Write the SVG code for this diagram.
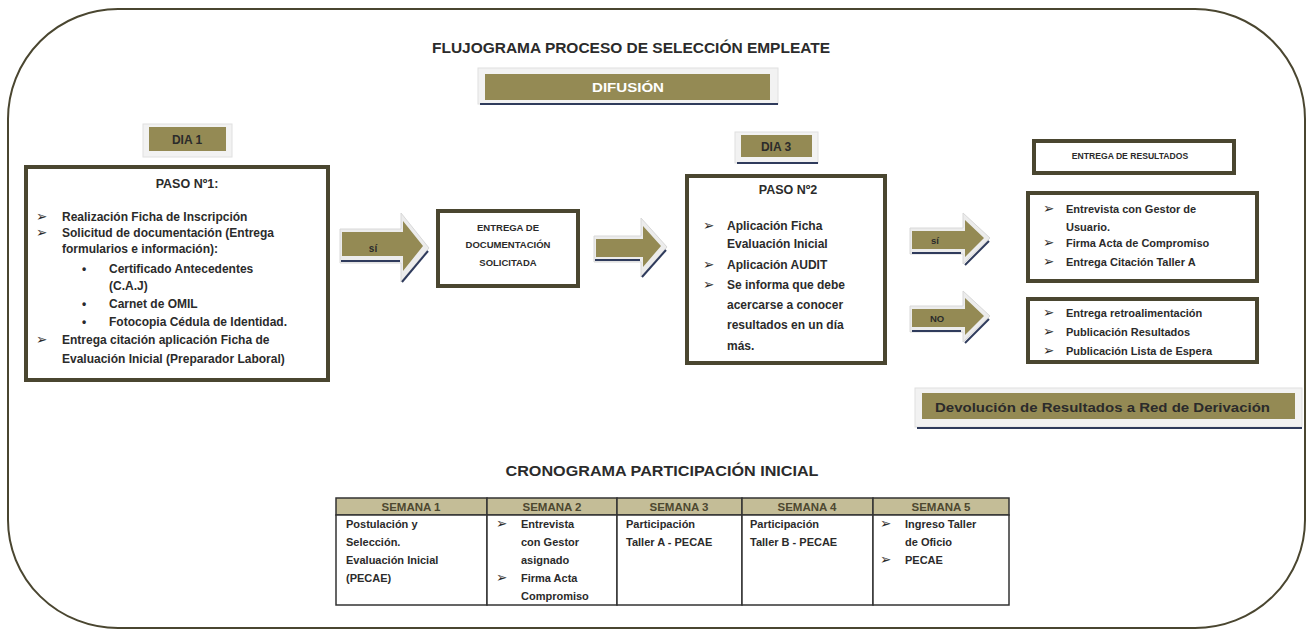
<svg xmlns="http://www.w3.org/2000/svg" width="1309" height="631" viewBox="0 0 1309 631">
<style>
.t{font-family:"Liberation Sans",Arial,sans-serif;font-weight:bold;fill:#2b2b2b}
.s12{font-size:12px}
.s11{font-size:11px}
.bul{font-family:"DejaVu Sans",sans-serif;font-size:13.5px;fill:#2b2b2b}
.box{fill:#fff;stroke:#4a4630;stroke-width:4}
.olive{fill:#948a54}
.plate{fill:#f2f2f2;stroke:#e0e0e0;stroke-width:1}
.navy{stroke:#2f3b5c;stroke-width:2;fill:none}
.bevel{fill:#ececec;stroke:#d8d8d8;stroke-width:1}
.hdr{fill:#c4bd97;stroke:#333;stroke-width:1.5}
.cell{fill:#fff;stroke:#333;stroke-width:1.5}
.ht{font-family:"Liberation Sans",Arial,sans-serif;font-weight:bold;font-size:11.5px;fill:#4d4830}
</style>

<path d="M118,9 H1195 A110,110 0 0 1 1305,119 V520 A110,108 0 0 1 1195,628 H118 A110,108 0 0 1 8,520 V119 A110,110 0 0 1 118,9 Z" fill="none" stroke="#4a4630" stroke-width="2"/>

<text class="t" x="631" y="53" font-size="14.5" text-anchor="middle" textLength="398" lengthAdjust="spacingAndGlyphs" fill="#333">FLUJOGRAMA PROCESO DE SELECCIÓN EMPLEATE</text>

<g id="difusion">
<rect class="plate" x="478" y="68" width="300" height="36"/>
<line class="navy" x1="480" y1="104" x2="778" y2="104"/>
<rect class="olive" x="485" y="74" width="285" height="26"/>
<text class="t" x="628" y="92" font-size="13" text-anchor="middle" textLength="72" lengthAdjust="spacingAndGlyphs" style="fill:#fff">DIFUSIÓN</text>
</g>

<g id="dia1">
<rect class="plate" x="143" y="124" width="89" height="33"/>
<rect class="olive" x="149" y="127" width="77" height="24"/>
<text class="t s12" x="187" y="144" text-anchor="middle">DIA 1</text>
</g>

<g id="paso1">
<rect class="box" x="26" y="167" width="302" height="213"/>
<text class="t" x="187" y="188" font-size="12.5" text-anchor="middle">PASO Nº1:</text>
<text class="bul" x="36" y="221">➢</text>
<text class="t s12" x="62" y="221">Realización Ficha de Inscripción</text>
<text class="bul" x="36" y="237">➢</text>
<text class="t s12" x="62" y="237">Solicitud de documentación (Entrega</text>
<text class="t s12" x="62" y="253">formularios e información):</text>
<text class="t s12" x="82" y="273">•</text>
<text class="t s12" x="109" y="273">Certificado Antecedentes</text>
<text class="t s12" x="109" y="290">(C.A.J)</text>
<text class="t s12" x="82" y="308">•</text>
<text class="t s12" x="109" y="308">Carnet de OMIL</text>
<text class="t s12" x="82" y="326">•</text>
<text class="t s12" x="109" y="326">Fotocopia Cédula de Identidad.</text>
<text class="bul" x="36" y="344">➢</text>
<text class="t s12" x="62" y="344">Entrega citación aplicación Ficha de</text>
<text class="t s12" x="62" y="363">Evaluación Inicial (Preparador Laboral)</text>
</g>

<g id="entrega-doc">
<rect class="box" x="438" y="211" width="140" height="75"/>
<text class="t" x="508" y="231" font-size="9.5" text-anchor="middle">ENTREGA DE</text>
<text class="t" x="508" y="248" font-size="9.5" text-anchor="middle">DOCUMENTACIÓN</text>
<text class="t" x="508" y="266" font-size="9.5" text-anchor="middle">SOLICITADA</text>
</g>

<g id="dia3">
<rect class="plate" x="735" y="132" width="83" height="31"/>
<line class="navy" x1="737" y1="163" x2="818" y2="163"/>
<rect class="olive" x="741" y="135" width="71" height="22"/>
<text class="t s12" x="776" y="151" text-anchor="middle">DIA 3</text>
</g>

<g id="paso2">
<rect class="box" x="687" y="176" width="198" height="187"/>
<text class="t" x="788" y="194" font-size="12.5" text-anchor="middle">PASO Nº2</text>
<text class="bul" x="703" y="230">➢</text>
<text class="t s12" x="727" y="230">Aplicación Ficha</text>
<text class="t s12" x="727" y="248">Evaluación Inicial</text>
<text class="bul" x="703" y="269">➢</text>
<text class="t s12" x="727" y="269">Aplicación AUDIT</text>
<text class="bul" x="703" y="289">➢</text>
<text class="t s12" x="727" y="289">Se informa que debe</text>
<text class="t s12" x="727" y="309">acercarse a conocer</text>
<text class="t s12" x="727" y="329">resultados en un día</text>
<text class="t s12" x="727" y="350">más.</text>
</g>

<g id="entrega-resultados">
<rect class="box" x="1034" y="141" width="200" height="32"/>
<text class="t" x="1130" y="159" font-size="8.6" text-anchor="middle">ENTREGA DE RESULTADOS</text>
</g>

<g id="resultado-si">
<rect class="box" x="1028" y="193" width="229" height="88"/>
<text class="bul" x="1043" y="213">➢</text>
<text class="t s11" x="1066" y="213">Entrevista con Gestor de</text>
<text class="t s11" x="1066" y="231">Usuario.</text>
<text class="bul" x="1043" y="247">➢</text>
<text class="t s11" x="1066" y="247">Firma Acta de Compromiso</text>
<text class="bul" x="1043" y="266">➢</text>
<text class="t s11" x="1066" y="266">Entrega Citación Taller A</text>
</g>

<g id="resultado-no">
<rect class="box" x="1028" y="299" width="229" height="63"/>
<text class="bul" x="1043" y="317">➢</text>
<text class="t s11" x="1066" y="317">Entrega retroalimentación</text>
<text class="bul" x="1043" y="336">➢</text>
<text class="t s11" x="1066" y="336">Publicación Resultados</text>
<text class="bul" x="1043" y="355">➢</text>
<text class="t s11" x="1066" y="355">Publicación Lista de Espera</text>
</g>

<g id="devolucion">
<rect class="plate" x="915" y="388" width="387" height="39"/>
<line class="navy" x1="917" y1="428" x2="1302" y2="428"/>
<rect class="olive" x="922" y="393" width="373" height="26"/>
<text class="t" x="935" y="412" font-size="13.5" textLength="335" lengthAdjust="spacingAndGlyphs" fill="#222">Devolución de Resultados a Red de Derivación</text>
</g>

<g id="connectors">
<g id="arrow-1">
<path class="bevel" d="M340,229 H401 V213 L429,248 L401,282 V263 H340 Z"/>
<path class="olive" d="M342,232 H403 V221 L423,246 L403,271 V256 H342 Z"/>
<line class="navy" x1="341" y1="261" x2="400" y2="261"/>
<line class="navy" x1="428" y1="251" x2="402" y2="282"/>
<text class="t" x="373" y="252" font-size="10" text-anchor="middle" fill="#4a2a1a">sí</text>
</g>
<g id="arrow-2">
<path class="bevel" d="M594,236 H641 V218 L667,247 L641,277 V262 H594 Z"/>
<path class="olive" d="M596,239 H643 V226 L661,246 L643,267 V257 H596 Z"/>
<line class="navy" x1="595" y1="260" x2="640" y2="260"/>
<line class="navy" x1="666" y1="250" x2="642" y2="277"/>
</g>
<g id="arrow-si">
<path class="bevel" d="M910,228 H963 V213 L990,238 L963,264 V254 H910 Z"/>
<path class="olive" d="M912,231 H965 V220 L984,238 L965,257 V249 H912 Z"/>
<line class="navy" x1="912" y1="253" x2="961" y2="253"/>
<line class="navy" x1="989" y1="241" x2="965" y2="265"/>
<text class="t" x="935" y="244" font-size="9.5" text-anchor="middle" fill="#3a2a1a">sí</text>
</g>
<g id="arrow-no">
<path class="bevel" d="M910,306 H963 V291 L990,316 L963,342 V332 H910 Z"/>
<path class="olive" d="M912,309 H965 V298 L984,316 L965,335 V327 H912 Z"/>
<line class="navy" x1="912" y1="331" x2="961" y2="331"/>
<line class="navy" x1="989" y1="319" x2="965" y2="343"/>
<text class="t" x="937" y="322" font-size="9.5" text-anchor="middle" fill="#2a2a1a">NO</text>
</g>
</g>

<text class="t" x="662" y="476" font-size="14" text-anchor="middle" textLength="313" lengthAdjust="spacingAndGlyphs" fill="#3a3a3a">CRONOGRAMA PARTICIPACIÓN INICIAL</text>

<g id="cronograma">
<rect class="hdr" x="336" y="498" width="151" height="17"/>
<rect class="hdr" x="487" y="498" width="130" height="17"/>
<rect class="hdr" x="617" y="498" width="125" height="17"/>
<rect class="hdr" x="742" y="498" width="131" height="17"/>
<rect class="hdr" x="873" y="498" width="136" height="17"/>
<rect class="cell" x="336" y="515" width="151" height="90"/>
<rect class="cell" x="487" y="515" width="130" height="90"/>
<rect class="cell" x="617" y="515" width="125" height="90"/>
<rect class="cell" x="742" y="515" width="131" height="90"/>
<rect class="cell" x="873" y="515" width="136" height="90"/>
<text class="ht" x="411" y="511" text-anchor="middle">SEMANA 1</text>
<text class="ht" x="552" y="511" text-anchor="middle">SEMANA 2</text>
<text class="ht" x="679" y="511" text-anchor="middle">SEMANA 3</text>
<text class="ht" x="807" y="511" text-anchor="middle">SEMANA 4</text>
<text class="ht" x="941" y="511" text-anchor="middle">SEMANA 5</text>
<text class="t s11" x="346" y="528">Postulación y</text>
<text class="t s11" x="346" y="546">Selección.</text>
<text class="t s11" x="346" y="564">Evaluación Inicial</text>
<text class="t s11" x="346" y="582">(PECAE)</text>
<text class="bul" x="496" y="528">➢</text>
<text class="t s11" x="521" y="528">Entrevista</text>
<text class="t s11" x="521" y="546">con Gestor</text>
<text class="t s11" x="521" y="564">asignado</text>
<text class="bul" x="496" y="582">➢</text>
<text class="t s11" x="521" y="582">Firma Acta</text>
<text class="t s11" x="521" y="600">Compromiso</text>
<text class="t s11" x="626" y="528">Participación</text>
<text class="t s11" x="626" y="546">Taller A - PECAE</text>
<text class="t s11" x="750" y="528">Participación</text>
<text class="t s11" x="750" y="546">Taller B - PECAE</text>
<text class="bul" x="880" y="528">➢</text>
<text class="t s11" x="905" y="528">Ingreso Taller</text>
<text class="t s11" x="905" y="546">de Oficio</text>
<text class="bul" x="880" y="564">➢</text>
<text class="t s11" x="905" y="564">PECAE</text>
</g>
</svg>
